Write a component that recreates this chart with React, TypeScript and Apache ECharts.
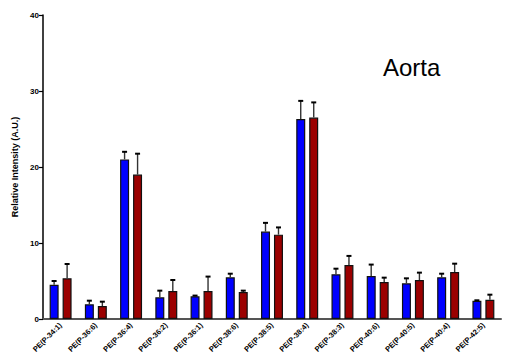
import React, { useEffect, useRef } from "react";
import * as echarts from "echarts";

const categories = [
  "PE(P-34:1)", "PE(P-36:6)", "PE(P-36:4)", "PE(P-36:2)", "PE(P-36:1)",
  "PE(P-38:6)", "PE(P-38:5)", "PE(P-38:4)", "PE(P-38:3)", "PE(P-40:6)",
  "PE(P-40:5)", "PE(P-40:4)", "PE(P-42:5)",
];
const blueMean = [4.5, 1.93, 21.0, 2.85, 2.98, 5.48, 11.5, 26.3, 5.88, 5.66, 4.69, 5.48, 2.41];
const blueErr = [0.5, 0.48, 1.0, 0.88, 0.1, 0.48, 1.15, 2.4, 0.74, 1.5, 0.66, 0.48, 0.05];
const redMean = [5.36, 1.71, 19.0, 3.68, 3.68, 3.55, 11.1, 26.5, 7.1, 4.87, 5.13, 6.18, 2.54];
const redErr = [1.88, 0.57, 2.75, 1.45, 1.9, 0.18, 0.95, 2.0, 1.2, 0.57, 0.97, 1.1, 0.66];
const yTicks = [0, 10, 20, 30, 40];

const BAR_W = 9;
const OFFSET = 6.5;

function errorSeries(mean: number[], err: number[], offset: number) {
  return {
    type: "custom",
    coordinateSystem: "cartesian2d",
    z: 5,
    silent: true,
    data: mean.map((m, i) => [i, m, err[i]]),
    encode: { x: 0, y: 1 },
    renderItem: (params: any, api: any) => {
      const i = api.value(0);
      const m = api.value(1);
      const e = api.value(2);
      const base = api.coord([i, m]);
      const top = api.coord([i, m + e]);
      const x = base[0] + offset;
      return {
        type: "group",
        children: [
          {
            type: "line",
            shape: { x1: x, y1: base[1], x2: x, y2: top[1] },
            style: { stroke: "#333", lineWidth: 1.4 },
          },
          {
            type: "line",
            shape: { x1: x - 2.5, y1: top[1], x2: x + 2.5, y2: top[1] },
            style: { stroke: "#000", lineWidth: 2 },
          },
        ],
      };
    },
  };
}

export default function App() {
  const ref = useRef<HTMLDivElement>(null);
  useEffect(() => {
    if (!ref.current) return;
    const chart = echarts.init(ref.current, null, { renderer: "svg" });
    chart.setOption({
      animation: false,
      backgroundColor: "#fff",
      grid: { left: 43, right: 7, top: 15, bottom: 39, containLabel: false },
      title: {
        text: "Aorta",
        left: 378,
        top: 50,
        textStyle: {
          fontFamily: "Liberation Sans, Arial, sans-serif",
          fontSize: 24,
          fontWeight: "normal",
          color: "#000",
        },
      },
      xAxis: {
        type: "category",
        data: categories,
        boundaryGap: true,
        axisLine: { lineStyle: { color: "#555", width: 2 } },
        axisTick: { alignWithLabel: true, length: 4, lineStyle: { color: "#000", width: 1.2 } },
        axisLabel: {
          rotate: 45,
          interval: 0,
          margin: 5,
          fontSize: 7.5,
          fontWeight: "bold",
          fontFamily: "Liberation Sans, Arial, sans-serif",
          color: "#000",
        },
      },
      yAxis: {
        type: "value",
        min: yTicks[0],
        max: yTicks[yTicks.length - 1],
        interval: 10,
        name: "Relative Intensity (A.U.)",
        nameLocation: "middle",
        nameGap: 19,
        nameTextStyle: {
          fontSize: 9,
          fontWeight: "bold",
          fontFamily: "Liberation Sans, Arial, sans-serif",
          color: "#000",
        },
        axisLine: { show: true, lineStyle: { color: "#000", width: 1.5 } },
        axisTick: { show: true, length: 4, lineStyle: { color: "#000", width: 1.2 } },
        splitLine: { show: false },
        axisLabel: {
          fontSize: 8,
          fontWeight: "bold",
          margin: 4,
          fontFamily: "Liberation Sans, Arial, sans-serif",
          color: "#000",
        },
      },
      series: [
        {
          type: "bar",
          data: blueMean,
          barWidth: BAR_W,
          barGap: "44%",
          itemStyle: { color: "#0000ff", borderColor: "#111", borderWidth: 1.2 },
        },
        {
          type: "bar",
          data: redMean,
          barWidth: BAR_W,
          barGap: "44%",
          itemStyle: { color: "#9b0000", borderColor: "#111", borderWidth: 1.2 },
        },
        errorSeries(blueMean, blueErr, -OFFSET),
        errorSeries(redMean, redErr, OFFSET),
      ],
    });
    return () => chart.dispose();
  }, []);
  return (
    <div
      ref={ref}
      style={{ position: "fixed", left: 0, top: 0, width: 508, height: 358 }}
    />
  );
}
